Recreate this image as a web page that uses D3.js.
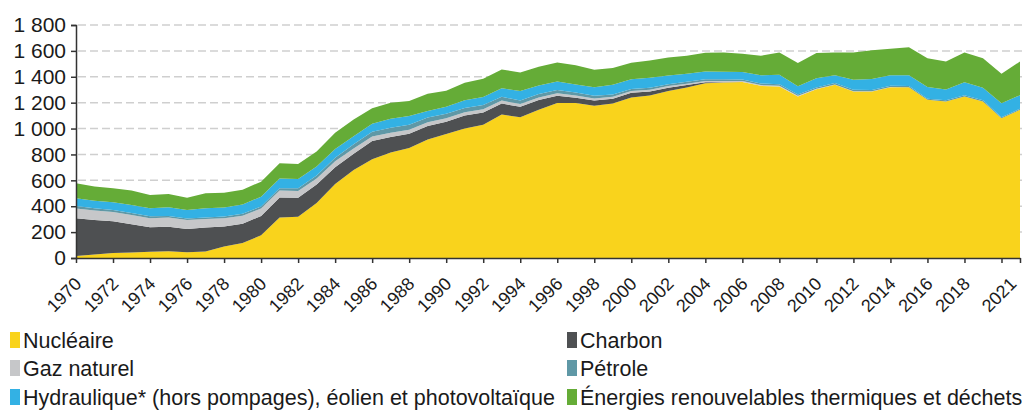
<!DOCTYPE html>
<html><head><meta charset="utf-8">
<script src="https://cdn.jsdelivr.net/npm/d3@7"></script>
<style>
html,body{margin:0;padding:0;background:#fff;}
svg{display:block;font-family:"Liberation Sans",Arial,sans-serif;}
</style></head>
<body><svg id="c" width="1022" height="410"></svg>
<script>
const years = d3.range(1970, 2022);
const nucleaire = [15,28,38,42,48,52,45,50,88,115,
 175,312,318,425,572,680,763,815,850,915,
 958,1000,1030,1108,1088,1145,1198,1198,1176,1193,
 1240,1255,1290,1318,1350,1356,1359,1330,1325,1248,
 1304,1338,1286,1286,1320,1320,1222,1209,1248,1209,
 1080,1145];
const charbon = [292,265,245,218,190,190,180,185,155,150,
 150,155,148,142,130,125,140,120,110,105,
 95,100,95,85,80,75,55,40,40,38,
 36,32,26,18,8,2,0,0,0,0,
 0,0,0,0,0,0,0,0,0,0,
 0,0];
const gaz = [75,74,72,72,70,70,68,66,64,62,
 58,55,52,48,45,40,36,33,30,28,
 27,26,25,23,21,20,19,18,17,15,
 14,13,12,11,10,9,8,7,6,5,
 4,3,3,2,1,0,0,0,0,0,
 0,0];
const petrole = [20,18,16,15,14,13,12,12,13,14,
 15,17,20,23,28,33,36,38,40,38,
 35,33,32,30,28,27,25,22,20,18,
 16,15,14,14,13,13,12,12,11,11,
 10,10,10,9,9,9,9,9,9,9,
 8,8];
const hydro = [59,58,59,63,62,67,66,72,70,72,
 76,75,72,68,68,62,62,69,67,50,
 53,59,62,66,73,65,66,62,67,74,
 74,77,68,62,60,58,57,62,73,62,
 70,60,78,85,82,82,90,84,100,98,
 108,105];
const enrThermiques = [116,109,109,111,103,103,95,115,115,115,
 116,118,117,116,125,130,120,125,116,132,
 125,135,140,145,143,146,148,150,135,130,
 128,134,138,139,144,150,142,151,173,180,
 195,177,211,222,204,218,223,216,231,228,
 227,260];

const seriesKeys = ["nucleaire","charbon","gaz","petrole","hydro","enr"];
const seriesLabels = ["Nucléaire","Charbon","Gaz naturel","Pétrole",
  "Hydraulique* (hors pompages), éolien et photovoltaïque",
  "Énergies renouvelables thermiques et déchets"];
const seriesColors = ["#f9d31c","#4e5052","#c6c7c9","#5f98a6","#33b1e4","#65ac37"];
const yTicks = [0,200,400,600,800,1000,1200,1400,1600,1800];
const xTicks = d3.range(1970, 2021, 2).concat([2021]);

const table = years.map((yr,i)=>({year:yr, nucleaire:nucleaire[i], charbon:charbon[i], gaz:gaz[i],
  petrole:petrole[i], hydro:hydro[i], enr:enrThermiques[i]}));

const svg = d3.select("#c");
const x = d3.scaleLinear().domain([1970,2021]).range([76,1020]);
const y = d3.scaleLinear().domain([0,1800]).range([258,25]);

// grid
svg.append("g").selectAll("line").data(yTicks.filter(d=>d>0)).join("line")
  .attr("x1",78).attr("x2",1022).attr("y1",d=>y(d)).attr("y2",d=>y(d))
  .attr("stroke","#cfcfcf").attr("stroke-width",1.5).attr("stroke-dasharray","8,4");

const stack = d3.stack().keys(seriesKeys)(table);
const area = d3.area().x(d=>x(d.data.year)).y0(d=>y(d[0])).y1(d=>y(d[1]));
svg.append("g").selectAll("path").data(stack).join("path")
  .attr("d",area).attr("fill",(d,i)=>seriesColors[i]);

// y axis
const ya = svg.append("g").attr("transform","translate(76,0)")
  .call(d3.axisLeft(y).tickValues(yTicks).tickSize(5).tickPadding(5)
    .tickFormat(d=>d>=1000 ? Math.floor(d/1000)+"\u00a0"+String(d%1000).padStart(3,"0") : String(d)));
ya.select(".domain").attr("stroke","#333").attr("stroke-width",1.5);
ya.selectAll(".tick line").attr("stroke","#333").attr("stroke-width",1.5);
ya.selectAll("text").attr("font-size",21).attr("fill","#1a1a1a")
  .attr("font-family","'Liberation Sans',Arial,sans-serif");

// x axis
const xa = svg.append("g").attr("transform","translate(0,258)")
  .call(d3.axisBottom(x).tickValues(xTicks).tickSize(5).tickSizeOuter(0)
    .tickFormat(d=> d===2020 ? "" : String(d)));
xa.select(".domain").attr("stroke","#333").attr("stroke-width",1.5);
xa.selectAll(".tick line").attr("stroke","#333").attr("stroke-width",1.5);
xa.selectAll("text").attr("font-size",18).attr("fill","#1a1a1a")
  .attr("font-family","'Liberation Sans',Arial,sans-serif")
  .attr("text-anchor","end").attr("y",0).attr("dy","0")
  .attr("transform",d=> d===2021 ? "translate(-3,27) rotate(-45)" : "translate(6,27) rotate(-45)");

// legend
const legPos = [[10,340],[567,340],[10,368],[567,368],[10,397],[567,397]];
const lg = svg.append("g").selectAll("g").data(seriesLabels).join("g")
  .attr("transform",(d,i)=>`translate(${legPos[i][0]},${legPos[i][1]})`);
lg.append("rect").attr("x",0).attr("y",-8).attr("width",10).attr("height",16)
  .attr("fill",(d,i)=>seriesColors[i]);
lg.append("text").attr("x",13).attr("y",0).attr("dy","0.35em")
  .attr("font-size",21.5).attr("fill","#1a1a1a").text(d=>d);
</script></body></html>
